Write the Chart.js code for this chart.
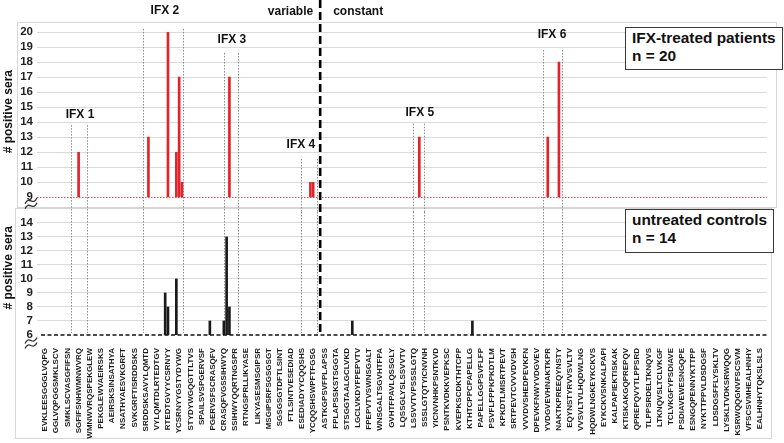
<!DOCTYPE html>
<html>
<head>
<meta charset="utf-8">
<script src="https://cdn.jsdelivr.net/npm/chart.js@4.4.1/dist/chart.umd.min.js"></script>
<style>
  body { margin: 0; background: #fff; }
  #wrap { position: relative; width: 784px; height: 443px; overflow: hidden; font-family: "Liberation Sans", Arial, sans-serif; }
  .frame { position: absolute; border: 1px solid #d6d6d6; }
  canvas { position: absolute; left: 0; }
  .key { position: absolute; background: #fff; border: 1.5px solid #3a3a3a; box-sizing: border-box;
         font-weight: bold; font-size: 15.4px; line-height: 17.5px; color: #111; padding: 1px 0 0 6px; white-space: nowrap; }
</style>
</head>
<body>
<div id="wrap">
  <div class="frame" style="left:17px;top:22px;width:758px;height:184px"></div>
  <div class="frame" style="left:15px;top:208px;width:755px;height:229px"></div>
  <canvas id="topChart" width="784" height="212" style="top:0"></canvas>
  <canvas id="botChart" width="784" height="231" style="top:212px"></canvas>
  <div class="key" style="left:625px;top:27px;width:158px;height:43px">IFX-treated patients<br>n = 20</div>
  <div class="key" style="left:625px;top:209px;width:149px;height:44px">untreated controls<br>n = 14</div>
</div>
<script>
"use strict";

const FONT = '"Liberation Sans", Arial, sans-serif';

// labelled peptides, one label every 4th spot of the array
const peptides = [
  "EVKLEESGGGLVQPG", "GGLVQPGGSMKLSCV", "SMKLSCVASGFIFSN", "SGFIFSNHWMNWVRQ", "WMNWVRQSPEKGLEW",
  "PEKGLEWVAEIRSKS", "AEIRSKSINSATHYA", "NSATHYAESVKGRFT", "SVKGRFTISRDDSKS", "SRDDSKSAVYLQMTD",
  "VYLQMTDLRTEDTGV", "RTEDTGVYYCSRNYY", "YCSRNYYGSTYDYWG", "STYDYWGQGTTLTVS", "SPAILSVSPGERVSF",
  "PGERVSFSCRASQFV", "CRASQFVGSSIHWYQ", "SSIHWYQQRTNGSPR", "RTNGSPRLLIKYASE", "LIKYASESMSGIPSR",
  "MSGIPSRFSGSGSGT", "SGSGSGTDFTLSINT", "FTLSINTVESEDIAD", "ESEDIADYYCQQSHS", "YCQQSHSWPFTFGSG",
  "ASTKGPSVFPLAPSS", "FPLAPSSKSTSGGTA", "STSGGTAALGCLVKD", "LGCLVKDYFPEPVTV", "FPEPVTVSWNSGALT",
  "WNSGALTSGVHTFPA", "GVHTFPAVLQSSGLY", "LQSSGLYSLSSVVTV", "LSSVVTVPSSSLGTQ", "SSSLGTQTYICNVNH",
  "YICNVNHKPSNTKVD", "PSNTKVDKKVEPKSC", "KVEPKSCDKTHTCPP", "KTHTCPPCPAPELLG", "PAPELLGGPSVFLFP",
  "PSVFLFPPKPKDTLM", "KPKDTLMISRTPEVT", "SRTPEVTCVVVDVSH", "VVVDVSHEDPEVKFN", "DPEVKFNWYVDGVEV",
  "YVDGVEVHNAKTKPR", "NAKTKPREEQYNSTY", "EQYNSTYRVVSVLTV", "VVSVLTVLHQDWLNG", "HQDWLNGKEYKCKVS",
  "EYKCKVSNKALPAPI", "KALPAPIEKTISKAK", "KTISKAKGQPREPQV", "QPREPQVYTLPPSRD", "TLPPSRDELTKNQVS",
  "LTKNQVSLTCLVKGF", "TCLVKGFYPSDIAVE", "PSDIAVEWESNGQPE", "ESNGQPENNYKTTPP", "NYKTTPPVLDSDGSF",
  "LDSDGSFFLYSKLTV", "LYSKLTVDKSRWQQG", "KSRWQQGNVFSCSVM", "VFSCSVMHEALHNHY", "EALHNHYTQKSLSLS"
];

// spot index on the array (4 spots per labelled peptide) and # positive sera
const treatedSpot = [12, 37, 44, 47, 48, 49, 66, 95, 96, 134, 180, 184];
const treatedSera = [12, 13, 20, 12, 17, 10, 17, 10, 10, 13, 13, 18];
const controlSpot = [43, 44, 47, 59, 64, 65, 66, 110, 153];
const controlSera = [9, 8, 10, 7, 7, 13, 8, 7, 7];

// epitope regions
const regionNames = ["IFX 1", "IFX 2", "IFX 3", "IFX 4", "IFX 5", "IFX 6"];
const regionFrom = [9.2, 35.2, 63.9, 91.7, 131.9, 178.4];
const regionTo = [15.0, 49.5, 69.2, 97.3, 135.5, 185.2];
const regionTop = [13.8, 20.2, 18.6, 11.55, 13.9, 18.8];
const regionLabel = [[12.5, 14.5], [42.9, 21.4], [66.9, 19.5], [91.6, 12.5], [134.2, 14.6], [181.5, 19.8]];
const dividerAt = 98.5;

const xMin = -2.9, xMax = 258.5;

function squiggle(ctx, cx, cy) {
  ctx.save();
  ctx.setLineDash([]);
  ctx.strokeStyle = "#333";
  ctx.lineWidth = 1.3;
  [-2.5, 2.5].forEach(d => {
    ctx.beginPath();
    ctx.moveTo(cx - 6, cy + d + 3);
    ctx.bezierCurveTo(cx - 2, cy + d - 6, cx + 2, cy + d + 6, cx + 6, cy + d - 3);
    ctx.stroke();
  });
  ctx.restore();
}

const annotate = {
  id: "annotate",
  beforeDatasetsDraw(chart, args, opts) {
    const { ctx, scales: { x, y } } = chart;
    const top = opts.panel === "top";
    ctx.save();
    ctx.strokeStyle = "#8c8c8c";
    ctx.lineWidth = 1;
    ctx.setLineDash([1.5, 1.5]);
    regionFrom.forEach((f, i) => {
      [f, regionTo[i]].forEach(v => {
        const px = Math.round(x.getPixelForValue(v)) + 0.5;
        const y0 = top ? y.getPixelForValue(regionTop[i]) : 0;
        const y1 = top ? chart.height : y.getPixelForValue(y.min) - 2;
        ctx.beginPath();
        ctx.moveTo(px, y0);
        ctx.lineTo(px, y1);
        ctx.stroke();
      });
    });
    ctx.restore();
  },
  afterDatasetsDraw(chart, args, opts) {
    const { ctx, chartArea, scales: { x, y } } = chart;
    const top = opts.panel === "top";
    const base = y.getPixelForValue(y.min);
    ctx.save();
    // baseline
    ctx.beginPath();
    if (top) {
      ctx.strokeStyle = "#e04a4a";
      ctx.lineWidth = 1;
      ctx.setLineDash([1.5, 1.5]);
      ctx.moveTo(chartArea.left, Math.round(base) + 0.5);
    } else {
      ctx.strokeStyle = "#111";
      ctx.lineWidth = 1.6;
      ctx.setLineDash([4, 2.5]);
      ctx.moveTo(chartArea.left + 4, base);
    }
    ctx.lineTo(chartArea.right, top ? Math.round(base) + 0.5 : base);
    ctx.stroke();

    // variable / constant divider
    const dx = x.getPixelForValue(dividerAt);
    ctx.beginPath();
    ctx.strokeStyle = "#000";
    ctx.lineWidth = 2.6;
    ctx.setLineDash([8, 4]);
    ctx.lineDashOffset = top ? 0 : 212 % 12;
    ctx.moveTo(dx, 0);
    ctx.lineTo(dx, top ? chart.height : base + 1);
    ctx.stroke();

    ctx.fillStyle = "#111";
    ctx.textBaseline = "middle";
    if (top) {
      ctx.font = "bold 12px " + FONT;
      ctx.textAlign = "center";
      regionNames.forEach((n, i) => {
        ctx.fillText(n, x.getPixelForValue(regionLabel[i][0]), y.getPixelForValue(regionLabel[i][1]));
      });
      ctx.textAlign = "right";
      ctx.fillText("variable", dx - 7, 12);
      ctx.textAlign = "left";
      ctx.fillText("constant", dx + 13, 12);
    }

    // axis title
    ctx.save();
    ctx.font = "bold 12px " + FONT;
    ctx.textAlign = "center";
    ctx.translate(9, y.getPixelForValue(top ? 14.7 : 10.8));
    ctx.rotate(-Math.PI / 2);
    ctx.fillText("# positive sera", 0, 0);
    ctx.restore();

    squiggle(ctx, 31, base + (top ? 6 : 8));
    ctx.restore();
  }
};

function xScale(show) {
  return {
    type: "linear", min: xMin, max: xMax, offset: false, display: show,
    grid: { display: false, offset: false },
    border: { display: false },
    afterBuildTicks: s => { s.ticks = peptides.map((p, i) => ({ value: i * 4 })); },
    afterFit: s => { if (show) s.height = 108; },
    ticks: {
      autoSkip: false, minRotation: 90, maxRotation: 90, padding: 5, color: "#1a1a1a",
      font: { family: FONT, size: 8, weight: "bold" },
      callback: (v, i) => peptides[i]
    }
  };
}

function yScale(min, max) {
  return {
    min: min, max: max,
    afterFit: s => { s.width = 37; },
    border: { display: false },
    grid: { drawTicks: false, color: c => (c.tick.value === min ? "rgba(0,0,0,0)" : "#dadada") },
    ticks: { stepSize: 1, autoSkip: false, padding: 4, color: "#222", font: { family: FONT, size: 11.5, weight: "bold" } }
  };
}

function makeChart(id, panel, spots, sera, color, yMin, yMax, padding) {
  return new Chart(document.getElementById(id), {
    type: "bar",
    data: {
      datasets: [{
        data: spots.map((s, i) => ({ x: s, y: sera[i] })),
        backgroundColor: color,
        borderWidth: 0,
        barThickness: 2
      }]
    },
    options: {
      responsive: false,
      animation: false,
      layout: { padding: padding },
      scales: { x: xScale(panel === "bottom"), y: yScale(yMin, yMax) },
      plugins: { legend: { display: false }, tooltip: { enabled: false }, annotate: { panel: panel } }
    },
    plugins: [annotate]
  });
}

makeChart("topChart", "top", treatedSpot, treatedSera, "#e3232b", 9, 20,
  { left: 0, right: 17, top: 32, bottom: 14.7 });
makeChart("botChart", "bottom", controlSpot, controlSera, "#1a1a1a", 6, 14,
  { left: 0, right: 17, top: 7.3, bottom: 0 });
</script>
</body>
</html>
